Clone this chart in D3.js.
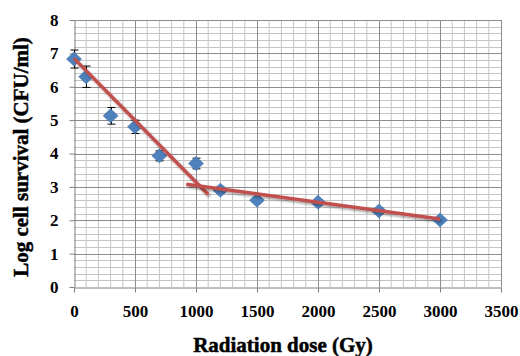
<!DOCTYPE html>
<html lang="en">
<head>
  <meta charset="UTF-8">
  <title>Radiation survival</title>
  <style>
    body { margin: 0; background: #fff; }
    text { font-family: "Liberation Serif", "Times New Roman", serif; font-weight: bold; }
  </style>
</head>
<body>
  <svg width="520" height="356"></svg>
  <script src="https://cdn.jsdelivr.net/npm/d3@7/dist/d3.min.js"></script>
  <script>
    var doses = [0, 100, 300, 500, 700, 1000, 1200, 1500, 2000, 2500, 3000]
    var survival = [6.83, 6.3, 5.13, 4.8, 3.93, 3.7, 2.9, 2.6, 2.54, 2.28, 2.01]
    var errors = [0.27, 0.32, 0.25, 0.2, 0.15, 0.16, 0.1, 0.08, 0.08, 0.08, 0.06]
    // two fitted segments
    var trend1 = [[0, 6.85], [1100, 2.77]]
    var trend2 = [[920, 3.08], [3000, 2.04]]
    var xTicks = [0, 500, 1000, 1500, 2000, 2500, 3000, 3500]
    var yTicks = [0, 1, 2, 3, 4, 5, 6, 7, 8]

    var svg = d3.select('svg')
    var x = d3.scaleLinear().domain([0, 3500]).range([74, 501])
    var y = d3.scaleLinear().domain([0, 8]).range([287, 20])

    var defs = svg.append('defs')
    var f = defs.append('filter').attr('id', 'shadow')
      .attr('x', '-10%').attr('y', '-50%').attr('width', '120%').attr('height', '200%')
    f.append('feDropShadow').attr('dx', 1.5).attr('dy', 2).attr('stdDeviation', 1.2)
      .attr('flood-color', '#000').attr('flood-opacity', 0.35)

    // minor grid
    var g = svg.append('g')
    g.selectAll('.mx').data(d3.range(100, 3500, 100).filter(function(d) { return d % 500 })).enter()
      .append('line')
      .attr('x1', function(d) { return x(d) }).attr('x2', function(d) { return x(d) })
      .attr('y1', y(0)).attr('y2', y(8))
      .attr('stroke', '#c4c4c4').attr('stroke-width', 1)
    g.selectAll('.my').data(d3.range(0.2, 8, 0.2).filter(function(d) { return Math.abs(d - Math.round(d)) > 0.01 })).enter()
      .append('line')
      .attr('x1', x(0)).attr('x2', x(3500))
      .attr('y1', function(d) { return Math.round(y(d)) + 0.5 }).attr('y2', function(d) { return Math.round(y(d)) + 0.5 })
      .attr('stroke', '#c4c4c4').attr('stroke-width', 1)
    // major grid
    g.selectAll('.Mx').data(xTicks.slice(1)).enter()
      .append('line')
      .attr('x1', function(d) { return Math.round(x(d)) + 0.5 }).attr('x2', function(d) { return Math.round(x(d)) + 0.5 })
      .attr('y1', y(0)).attr('y2', y(8))
      .attr('stroke', '#8c8c8c').attr('stroke-width', 1)
    g.selectAll('.My').data(yTicks.slice(1)).enter()
      .append('line')
      .attr('x1', x(0)).attr('x2', x(3500))
      .attr('y1', function(d) { return Math.round(y(d)) + 0.5 }).attr('y2', function(d) { return Math.round(y(d)) + 0.5 })
      .attr('stroke', '#8c8c8c').attr('stroke-width', 1)

    // axes
    var xAxis = svg.append('g').attr('transform', 'translate(0,' + (Math.round(y(0)) + 0.5) + ')')
      .call(d3.axisBottom(x).tickValues(xTicks).tickFormat(d3.format('d')).tickSize(5).tickSizeOuter(0).tickPadding(12))
    var yAxis = svg.append('g').attr('transform', 'translate(' + (Math.round(x(0)) + 0.5) + ',0)')
      .call(d3.axisLeft(y).tickValues(yTicks).tickSize(5).tickSizeOuter(0).tickPadding(11))
    ;[xAxis, yAxis].forEach(function(a) {
      a.select('.domain').attr('stroke', '#7f7f7f')
      a.selectAll('.tick line').attr('stroke', '#7f7f7f')
      a.selectAll('text').attr('fill', '#000').style('font-size', '17px')
        .style('font-family', '"Liberation Serif", serif').style('font-weight', 'bold')
    })

    // error bars
    var eb = svg.append('g').attr('stroke', '#000').attr('stroke-width', 1)
    doses.forEach(function(d, i) {
      var cx = Math.round(x(d)) + 0.5
      var lo = y(survival[i] - errors[i]), hi = y(survival[i] + errors[i])
      eb.append('line').attr('x1', cx).attr('x2', cx).attr('y1', lo).attr('y2', hi)
      eb.append('line').attr('x1', cx - 4).attr('x2', cx + 4).attr('y1', lo).attr('y2', lo)
      eb.append('line').attr('x1', cx - 4).attr('x2', cx + 4).attr('y1', hi).attr('y2', hi)
    })

    // markers
    svg.append('g').selectAll('path').data(doses).enter()
      .append('path')
      .attr('d', function(d, i) {
        var cx = x(d), cy = y(survival[i])
        return 'M' + cx + ',' + (cy - 7) + 'L' + (cx + 7.5) + ',' + cy + 'L' + cx + ',' + (cy + 7) + 'L' + (cx - 7.5) + ',' + cy + 'Z'
      })
      .attr('fill', '#4f81bd')
      .attr('stroke', '#3f6fa8').attr('stroke-width', 0.6)

    // trend lines
    var line = d3.line().x(function(d) { return x(d[0]) }).y(function(d) { return y(d[1]) })
    svg.append('g').selectAll('path').data([trend1, trend2]).enter()
      .append('path')
      .attr('d', line)
      .attr('fill', 'none')
      .attr('stroke', '#c0504d').attr('stroke-width', 3.5)
      .attr('filter', 'url(#shadow)')

    // axis titles
    svg.append('text')
      .attr('x', 283).attr('y', 352)
      .attr('text-anchor', 'middle')
      .style('font-size', '21px')
      .attr('stroke', '#000').attr('stroke-width', 0.5)
      .text('Radiation dose (Gy)')
    svg.append('text')
      .attr('transform', 'translate(28,157) rotate(-90)')
      .attr('text-anchor', 'middle')
      .style('font-size', '21px')
      .attr('stroke', '#000').attr('stroke-width', 0.5)
      .text('Log cell survival (CFU/ml)')
  </script>
</body>
</html>
